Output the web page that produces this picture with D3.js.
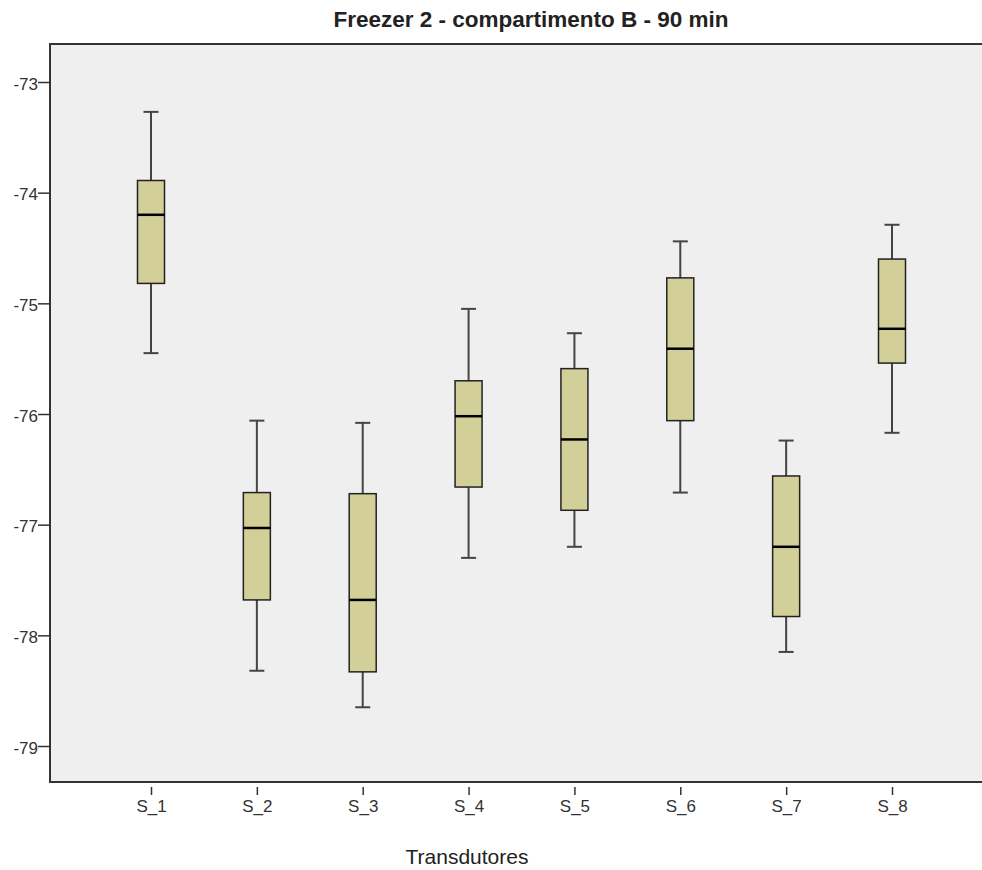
<!DOCTYPE html>
<html lang="pt">
  <head>
    <meta charset="UTF-8">
    <script src="https://d3js.org/d3.v7.min.js"></script>
    <style>
      body { margin: 0; background: #fff; font-family: "Liberation Sans", Arial, sans-serif; }
      .tick text { fill: #333; }
    </style>
    <title>Freezer 2 - compartimento B - 90 min</title>
  </head>
  <body>
  <script>
    // five-number summaries
    const sensors   = ["S_1", "S_2", "S_3", "S_4", "S_5", "S_6", "S_7", "S_8"];
    const whiskerHi = [-73.27, -76.06, -76.08, -75.05, -75.27, -74.44, -76.24, -74.29];
    const q3        = [-73.89, -76.71, -76.72, -75.70, -75.59, -74.77, -76.56, -74.60];
    const medians   = [-74.20, -77.03, -77.68, -76.02, -76.23, -75.41, -77.20, -75.23];
    const q1        = [-74.82, -77.68, -78.33, -76.66, -76.87, -76.06, -77.83, -75.54];
    const whiskerLo = [-75.45, -78.32, -78.65, -77.30, -77.20, -76.71, -78.15, -76.17];
    const yTicks    = [-73, -74, -75, -76, -77, -78, -79];

    const W = 982, H = 870;
    const plot = {left: 50, top: 44, right: 982, bottom: 782};

    const svg = d3.select('body').append('svg')
        .attr('width', W).attr('height', H);

    const y = d3.scaleLinear().domain([-73, -79]).range([82, 746]);
    const x = d3.scalePoint().domain(sensors).range([151, 892]);

    // plot background + frame
    svg.append('rect')
        .attr('x', plot.left).attr('y', plot.top)
        .attr('width', plot.right - plot.left).attr('height', plot.bottom - plot.top)
        .attr('fill', '#efefef');
    svg.append('path')
        .attr('d', `M${plot.right},${plot.top}H${plot.left}V${plot.bottom}H${plot.right}`)
        .attr('fill', 'none').attr('stroke', '#333').attr('stroke-width', 2);

    // y axis - plain hyphen for the minus sign, like the original
    const yAxis = svg.append('g')
        .attr('transform', `translate(${plot.left},0)`)
        .call(d3.axisLeft(y).tickValues(yTicks).tickSize(12).tickPadding(0).tickFormat(d => String(d)));
    yAxis.select('.domain').remove();
    yAxis.selectAll('.tick line').attr('stroke', '#333').attr('stroke-width', 1.5);
    yAxis.selectAll('.tick text').attr('font-size', 17).attr('dy', '0.42em');

    // x axis (ticks sit a little below the frame)
    const xAxis = svg.append('g')
        .attr('transform', `translate(0,${plot.bottom + 5})`)
        .call(d3.axisBottom(x).tickSize(8).tickPadding(5));
    xAxis.select('.domain').remove();
    xAxis.selectAll('.tick line').attr('stroke', '#333').attr('stroke-width', 1.5);
    xAxis.selectAll('.tick text').attr('font-size', 17);

    const boxes = sensors.map((s, i) => ({
      name: s, hi: whiskerHi[i], q3: q3[i], med: medians[i], q1: q1[i], lo: whiskerLo[i]
    }));

    const boxW = 27, capW = 15;
    const g = svg.selectAll('g.box').data(boxes).join('g')
        .attr('class', 'box')
        .attr('transform', d => `translate(${x(d.name)},0)`);

    // whiskers
    g.append('line')
        .attr('y1', d => y(d.hi)).attr('y2', d => y(d.q3))
        .attr('stroke', '#444').attr('stroke-width', 2);
    g.append('line')
        .attr('y1', d => y(d.q1)).attr('y2', d => y(d.lo))
        .attr('stroke', '#444').attr('stroke-width', 2);
    g.append('line')
        .attr('x1', -capW / 2).attr('x2', capW / 2)
        .attr('y1', d => y(d.hi)).attr('y2', d => y(d.hi))
        .attr('stroke', '#444').attr('stroke-width', 2);
    g.append('line')
        .attr('x1', -capW / 2).attr('x2', capW / 2)
        .attr('y1', d => y(d.lo)).attr('y2', d => y(d.lo))
        .attr('stroke', '#444').attr('stroke-width', 2);

    // box
    g.append('rect')
        .attr('x', -boxW / 2).attr('width', boxW)
        .attr('y', d => y(d.q3)).attr('height', d => y(d.q1) - y(d.q3))
        .attr('fill', '#d3cf98').attr('stroke', '#222').attr('stroke-width', 1.5);

    // median
    g.append('line')
        .attr('x1', -boxW / 2).attr('x2', boxW / 2)
        .attr('y1', d => y(d.med)).attr('y2', d => y(d.med))
        .attr('stroke', '#000').attr('stroke-width', 2.5);

    // titles
    svg.append('text')
        .attr('x', 531).attr('y', 27)
        .attr('text-anchor', 'middle')
        .attr('font-size', 22.5).attr('font-weight', 'bold').attr('fill', '#222')
        .text('Freezer 2 - compartimento B - 90 min');

    svg.append('text')
        .attr('x', 467).attr('y', 864)
        .attr('text-anchor', 'middle')
        .attr('font-size', 21).attr('fill', '#222')
        .text('Transdutores');
  </script>
  </body>
</html>
